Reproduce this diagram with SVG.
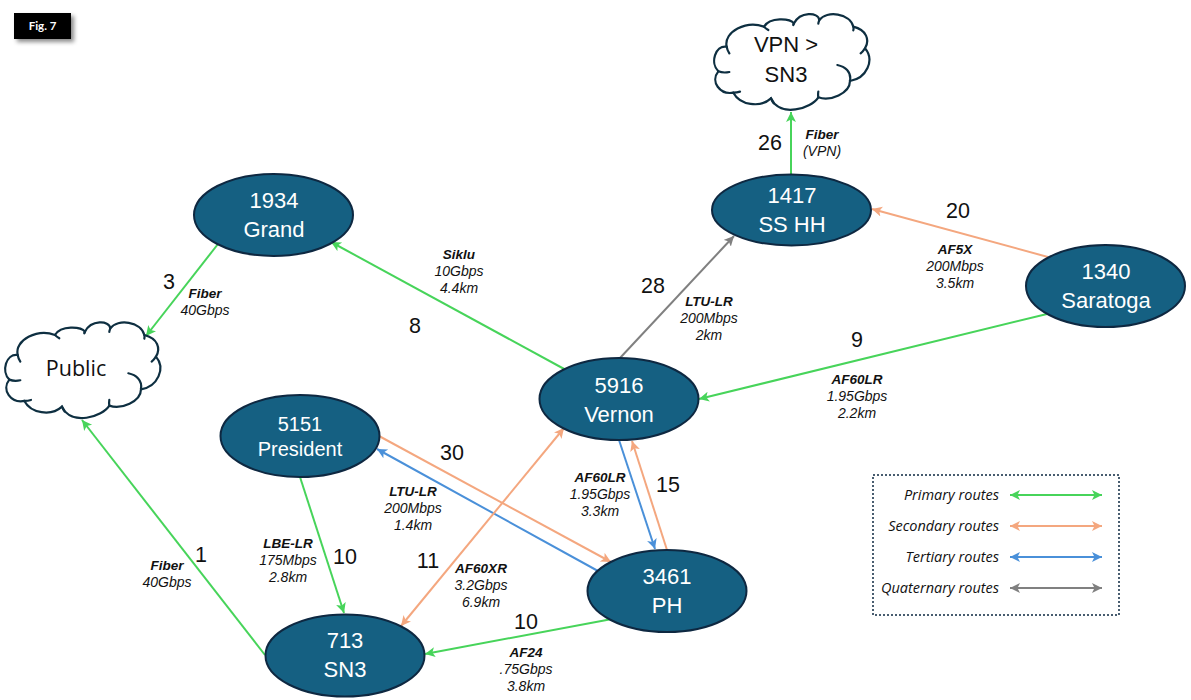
<svg xmlns="http://www.w3.org/2000/svg" width="1191" height="700" viewBox="0 0 1191 700">
<style>
text{font-family:"Liberation Sans",Arial,sans-serif;fill:#111}
.site ellipse{fill:#156082;stroke:#0e2841;stroke-width:2}
.site text{fill:#fff;font-size:22px;text-anchor:middle}
.cloud path{fill:#fff;stroke:#0e2f41;stroke-width:6.6;stroke-linecap:round}
.cloud path.cloud-inner{fill:none}
.cloudtxt{font-size:22px;text-anchor:middle}
.num{font-size:21.5px;text-anchor:middle}
.lb{font-size:14px;font-style:italic;text-anchor:middle}
.lb .h{font-weight:bold;font-size:13.5px}
.leg{font-family:"Open Sans",sans-serif;font-size:14.500px;font-style:italic;text-anchor:end}
line{stroke-width:2;fill:none}
.g{stroke:#47d45a}.o{stroke:#f4a77f}.b{stroke:#4a90d9}.y{stroke:#808080}
</style>
<defs>
<marker id="ag" markerUnits="userSpaceOnUse" markerWidth="12" markerHeight="12" refX="10" refY="5" orient="auto-start-reverse"><path d="M0 0L10 5L0 10L2.500 5Z" fill="#47d45a"/></marker>
<marker id="ao" markerUnits="userSpaceOnUse" markerWidth="12" markerHeight="12" refX="10" refY="5" orient="auto-start-reverse"><path d="M0 0L10 5L0 10L2.500 5Z" fill="#f4a77f"/></marker>
<marker id="ab" markerUnits="userSpaceOnUse" markerWidth="12" markerHeight="12" refX="10" refY="5" orient="auto-start-reverse"><path d="M0 0L10 5L0 10L2.500 5Z" fill="#4a90d9"/></marker>
<marker id="ay" markerUnits="userSpaceOnUse" markerWidth="12" markerHeight="12" refX="10" refY="5" orient="auto-start-reverse"><path d="M0 0L10 5L0 10L2.500 5Z" fill="#808080"/></marker>
<filter id="shade" x="-30%" y="-30%" width="170%" height="180%"><feDropShadow dx="3" dy="3" stdDeviation="2" flood-color="#000" flood-opacity=".45"/></filter>
<g id="cloudshape" class="cloud">
<path d="M85 214C60 190 75 135 110 140C100 95 170 60 222 80C240 50 300 55 312 70C330 35 385 35 388 60C410 30 480 40 490 80C530 90 540 120 525 145C555 180 530 235 480 243C480 280 420 305 385 292C365 325 270 355 243 295C210 325 150 315 130 278C90 285 60 245 85 214Z"/>
<path class="cloud-inner" d="M85 214C95 218 108 218 118 216M110 140C111 147 114 154 118 160M222 80C226 84 230 87 235 90M312 70C310 74 309 78 310 72M388 60C387 64 385 67 385 71M490 80C491 84 491 87 490 91M525 145C521 151 517 156 512 160M480 243C485 215 465 200 442 195M385 292C384 286 384 281 385 275M243 295C245 300 247 305 251 310M130 278C137 278 144 277 150 275"/>
</g>
</defs>
<rect width="1191" height="700" fill="#fff"/>

<g id="connectors">
<line class="g" x1="218" y1="244" x2="146" y2="336" marker-end="url(#ag)"/>
<line class="g" x1="566" y1="370" x2="331" y2="242" marker-end="url(#ag)"/>
<line class="g" x1="791" y1="175" x2="791" y2="112" marker-end="url(#ag)"/>
<line class="y" x1="620" y1="358" x2="734" y2="236" marker-end="url(#ay)"/>
<line class="o" x1="1048" y1="257" x2="872" y2="209" marker-end="url(#ao)"/>
<line class="g" x1="1047" y1="314" x2="699" y2="399" marker-end="url(#ag)"/>
<line class="b" x1="619" y1="440" x2="655" y2="549" marker-end="url(#ab)"/>
<line class="o" x1="667" y1="550" x2="632" y2="441" marker-end="url(#ao)"/>
<line class="o" x1="379" y1="436" x2="611" y2="562" marker-end="url(#ao)"/>
<line class="b" x1="598" y1="571" x2="377" y2="449" marker-end="url(#ab)"/>
<line class="o" x1="401" y1="626" x2="564" y2="428" marker-start="url(#ao)" marker-end="url(#ao)"/>
<line class="g" x1="300" y1="477" x2="344" y2="613" marker-end="url(#ag)"/>
<line class="g" x1="612" y1="619" x2="425" y2="654" marker-end="url(#ag)"/>
<line class="g" x1="265" y1="655" x2="82" y2="420" marker-end="url(#ag)"/>
</g>

<g id="fig-tag"><rect x="14" y="13" width="57" height="26" fill="#000" filter="url(#shade)"/><text x="42.500" y="30" font-size="11.500" font-weight="bold" text-anchor="middle" style="font-family:Lato,sans-serif;fill:#fff">Fig. 7</text></g>

<g id="cloud-vpn"><use href="#cloudshape" transform="translate(690 0) scale(.3333)"/><text class="cloudtxt" x="786" y="52">VPN &gt;</text><text class="cloudtxt" x="786" y="82">SN3</text></g>
<g id="cloud-public"><use href="#cloudshape" transform="translate(-19 308.300) scale(.3333)"/><text class="cloudtxt" x="76" y="376" style="font-family:'Open Sans',sans-serif;font-size:21.500px">Public</text></g>

<g id="n1934" class="site"><ellipse cx="273.500" cy="215" rx="79.500" ry="41"/><text x="274" y="208">1934</text><text x="274" y="237">Grand</text></g>
<g id="n1417" class="site"><ellipse cx="791.500" cy="210" rx="79.500" ry="35.500"/><text x="792" y="203">1417</text><text x="792" y="232">SS HH</text></g>
<g id="n1340" class="site"><ellipse cx="1105.500" cy="286" rx="79.500" ry="41"/><text x="1106" y="279">1340</text><text x="1106" y="308">Saratoga</text></g>
<g id="n5916" class="site"><ellipse cx="619" cy="399" rx="79.500" ry="41"/><text x="619" y="393">5916</text><text x="619" y="422">Vernon</text></g>
<g id="n5151" class="site"><ellipse cx="300" cy="436" rx="79.500" ry="41"/><text x="300" y="431" style="font-size:20px">5151</text><text x="300" y="456" style="font-size:20px">President</text></g>
<g id="n3461" class="site"><ellipse cx="667" cy="591" rx="79.500" ry="41"/><text x="667" y="584">3461</text><text x="667" y="613">PH</text></g>
<g id="n713" class="site"><ellipse cx="345" cy="655.500" rx="79.500" ry="41"/><text x="345" y="648">713</text><text x="345" y="677">SN3</text></g>

<g id="hop-counts">
<text class="num" x="169" y="289">3</text><text class="num" x="415" y="333">8</text><text class="num" x="770" y="150">26</text><text class="num" x="653" y="293">28</text><text class="num" x="958" y="218">20</text><text class="num" x="857" y="347">9</text><text class="num" x="668" y="492">15</text><text class="num" x="452" y="460">30</text><text class="num" x="428" y="568">11</text><text class="num" x="345" y="564">10</text><text class="num" x="526" y="629">10</text><text class="num" x="201" y="562">1</text>
</g>

<g id="link-labels">
<text class="lb" x="205" y="298"><tspan class="h">Fiber</tspan><tspan x="205" dy="17">40Gbps</tspan></text>
<text class="lb" x="459" y="259"><tspan class="h">Siklu</tspan><tspan x="459" dy="17">10Gbps</tspan><tspan x="459" dy="17">4.4km</tspan></text>
<text class="lb" x="822" y="139"><tspan class="h">Fiber</tspan><tspan x="822" dy="17">(VPN)</tspan></text>
<text class="lb" x="709" y="306"><tspan class="h">LTU-LR</tspan><tspan x="709" dy="17">200Mbps</tspan><tspan x="709" dy="17">2km</tspan></text>
<text class="lb" x="955" y="254"><tspan class="h">AF5X</tspan><tspan x="955" dy="17">200Mbps</tspan><tspan x="955" dy="17">3.5km</tspan></text>
<text class="lb" x="857" y="384"><tspan class="h">AF60LR</tspan><tspan x="857" dy="17">1.95Gbps</tspan><tspan x="857" dy="17">2.2km</tspan></text>
<text class="lb" x="600" y="482"><tspan class="h">AF60LR</tspan><tspan x="600" dy="17">1.95Gbps</tspan><tspan x="600" dy="17">3.3km</tspan></text>
<text class="lb" x="413" y="496"><tspan class="h">LTU-LR</tspan><tspan x="413" dy="17">200Mbps</tspan><tspan x="413" dy="17">1.4km</tspan></text>
<text class="lb" x="481" y="573"><tspan class="h">AF60XR</tspan><tspan x="481" dy="17">3.2Gbps</tspan><tspan x="481" dy="17">6.9km</tspan></text>
<text class="lb" x="288" y="548"><tspan class="h">LBE-LR</tspan><tspan x="288" dy="17">175Mbps</tspan><tspan x="288" dy="17">2.8km</tspan></text>
<text class="lb" x="526" y="657"><tspan class="h">AF24</tspan><tspan x="526" dy="17">.75Gbps</tspan><tspan x="526" dy="17">3.8km</tspan></text>
<text class="lb" x="167" y="570"><tspan class="h">Fiber</tspan><tspan x="167" dy="17">40Gbps</tspan></text>
</g>

<g id="legend">
<rect x="873" y="475" width="246" height="140" fill="none" stroke="#0e2841" stroke-width="1.500" stroke-dasharray="2 2"/>
<text class="leg" x="999" y="500">Primary routes</text><line class="g" x1="1010" y1="495" x2="1102" y2="495" marker-start="url(#ag)" marker-end="url(#ag)"/>
<text class="leg" x="999" y="531">Secondary routes</text><line class="o" x1="1010" y1="526" x2="1102" y2="526" marker-start="url(#ao)" marker-end="url(#ao)"/>
<text class="leg" x="999" y="562">Tertiary routes</text><line class="b" x1="1010" y1="557" x2="1102" y2="557" marker-start="url(#ab)" marker-end="url(#ab)"/>
<text class="leg" x="999" y="593">Quaternary routes</text><line class="y" x1="1010" y1="588" x2="1102" y2="588" marker-start="url(#ay)" marker-end="url(#ay)"/>
</g>
</svg>
